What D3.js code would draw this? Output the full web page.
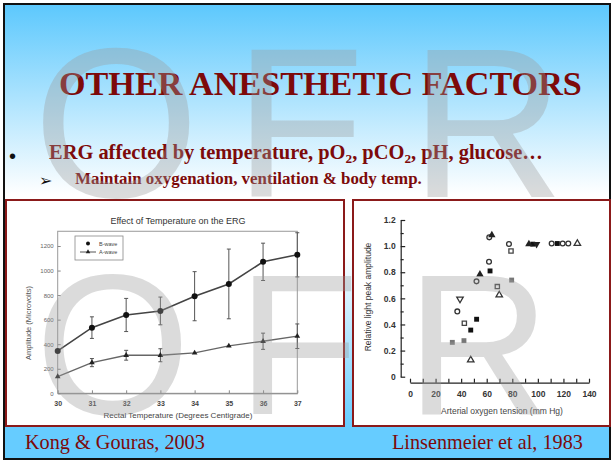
<!DOCTYPE html>
<html>
<head>
<meta charset="utf-8">
<script src="https://cdn.jsdelivr.net/npm/d3@7/dist/d3.min.js"></script>
<style>
  body { margin: 0; background: #fff; }
  svg { display: block; }
</style>
</head>
<body>
<svg width="614" height="464"></svg>
<script>
// ---- left chart: Kong & Gouras, 2003 ----
var temps = [30, 31, 32, 33, 34, 35, 36, 37];
var bWave = [345, 535, 638, 671, 791, 891, 1071, 1128];
var bErr  = [0, 88, 135, 113, 200, 284, 152, 180];
var aWave = [136, 250, 310, 310, 329, 386, 424, 465];
var aErr  = [0, 33, 40, 53, 0, 0, 66, 100];
var ampTicks = [0, 200, 400, 600, 800, 1000, 1200];

// ---- right chart: Linsenmeier et al, 1983 ----
// [arterial pO2 (mm Hg), relative amplitude]
var openCircle   = [[37, 0.50], [52, 0.73], [61.8, 0.88], [62, 1.067], [77.4, 1.016], [110.8, 1.02], [119.4, 1.02], [123.8, 1.02]];
var openSquare   = [[42.5, 0.41], [68.3, 0.69], [79, 0.963]];
var blackSquare  = [[47.5, 0.357], [52.1, 0.44], [62.6, 0.81], [96, 1.015], [115.2, 1.02]];
var greySquare   = [[33.1, 0.263], [42.2, 0.276], [79.5, 0.74]];
var openTri      = [[47.5, 0.128], [69.8, 0.626], [130.9, 1.02]];
var openTriDown  = [[39.1, 0.595]];
var filledTri    = [[54.7, 0.784], [64, 1.085], [93, 1.015]];
var filledTriDown = [[99, 1.015]];
var o2Ticks = [0, 20, 40, 60, 80, 100, 120, 140];
var relTicks = [0, 0.2, 0.4, 0.6, 0.8, 1.0, 1.2];

var red = "#7d0a0a";
var svg = d3.select("svg");

// background slide
var defs = svg.append("defs");
var grad = defs.append("linearGradient").attr("id", "bg")
  .attr("x1", 0).attr("y1", 0).attr("x2", 0).attr("y2", 1);
grad.append("stop").attr("offset", "0").attr("stop-color", "#5cc8fd");
grad.append("stop").attr("offset", "0.42").attr("stop-color", "#ffffff");
grad.append("stop").attr("offset", "0.55").attr("stop-color", "#ffffff");
grad.append("stop").attr("offset", "0.93").attr("stop-color", "#66ccff");
grad.append("stop").attr("offset", "1").attr("stop-color", "#66ccff");

svg.append("rect").attr("x", 4).attr("y", 4).attr("width", 606).attr("height", 455)
  .attr("fill", "url(#bg)").attr("stroke", "#111").attr("stroke-width", 2);

// fit a text to a given width by changing its font size
function fit(t, w) {
  var fs = +t.attr("font-size");
  var cur = t.node().getComputedTextLength();
  t.attr("font-size", fs * w / cur);
}

var title = svg.append("text")
  .attr("x", 59).attr("y", 95)
  .attr("font-family", "Liberation Serif, Times New Roman, serif")
  .attr("font-weight", "bold").attr("font-size", 34).attr("fill", red)
  .text("OTHER ANESTHETIC FACTORS");
fit(title, 523);

svg.append("text").attr("x", 9).attr("y", 163)
  .attr("font-family", "Liberation Sans, Arial, sans-serif").attr("font-size", 20).attr("fill", "#111")
  .text("\u2022");

var line1 = svg.append("text")
  .attr("x", 49).attr("y", 159)
  .attr("font-family", "Liberation Serif, Times New Roman, serif")
  .attr("font-weight", "bold").attr("font-size", 20).attr("fill", red);
line1.append("tspan").text("ERG affected by temperature, pO");
line1.append("tspan").attr("font-size", "0.65em").attr("dy", "0.3em").text("2");
line1.append("tspan").attr("dy", "-0.2em").text(", pCO");
line1.append("tspan").attr("font-size", "0.65em").attr("dy", "0.3em").text("2");
line1.append("tspan").attr("dy", "-0.2em").text(", pH, glucose\u2026");
fit(line1, 494);

svg.append("text").attr("x", 39).attr("y", 186)
  .attr("font-family", "DejaVu Sans, sans-serif").attr("font-size", 16).attr("fill", "#111")
  .text("\u27A2");

var line2 = svg.append("text")
  .attr("x", 75).attr("y", 184)
  .attr("font-family", "Liberation Serif, Times New Roman, serif")
  .attr("font-weight", "bold").attr("font-size", 16).attr("fill", red)
  .text("Maintain oxygenation, ventilation & body temp.");
fit(line2, 347);

// panels
svg.append("rect").attr("x", 6).attr("y", 200).attr("width", 338).attr("height", 226)
  .attr("fill", "#fff").attr("stroke", "#8b1a1a").attr("stroke-width", 2);
svg.append("rect").attr("x", 353).attr("y", 200).attr("width", 257).attr("height", 226)
  .attr("fill", "#fff").attr("stroke", "#8b1a1a").attr("stroke-width", 2);

// captions
var cap1 = svg.append("text").attr("x", 25).attr("y", 449)
  .attr("font-family", "Liberation Serif, Times New Roman, serif")
  .attr("font-size", 19).attr("fill", red).text("Kong & Gouras, 2003");
fit(cap1, 180);
var cap2 = svg.append("text").attr("x", 392).attr("y", 449)
  .attr("font-family", "Liberation Serif, Times New Roman, serif")
  .attr("font-size", 19).attr("fill", red).text("Linsenmeier et al, 1983");
fit(cap2, 191);

// ================= left chart =================
var x1 = d3.scaleLinear().domain([30, 37]).range([57.7, 297.3]);
var y1 = d3.scaleLinear().domain([0, 1200]).range([393.3, 246]);
var g1 = svg.append("g").attr("font-family", "Liberation Sans, Arial, sans-serif");

g1.append("text").attr("x", 178).attr("y", 224).attr("text-anchor", "middle")
  .attr("font-size", 9).attr("fill", "#333").text("Effect of Temperature on the ERG");

g1.append("rect").attr("x", x1(30)).attr("y", y1(1320))
  .attr("width", x1(37) - x1(30)).attr("height", y1(0) - y1(1320))
  .attr("fill", "none").attr("stroke", "#999").attr("stroke-width", 1);

var ax1 = g1.append("g").attr("transform", "translate(" + x1(30) + ",0)")
  .call(d3.axisLeft(y1).tickValues(ampTicks).tickSizeInner(-3).tickSizeOuter(0).tickPadding(4)
    .tickFormat(d3.format("d")));
ax1.select(".domain").remove();
ax1.selectAll("line").attr("stroke", "#888");
ax1.selectAll("text").attr("font-size", 6).attr("fill", "#666");

var bx1 = g1.append("g").attr("transform", "translate(0," + y1(0) + ")")
  .call(d3.axisBottom(x1).tickValues(temps).tickSizeInner(-3).tickSizeOuter(0).tickPadding(8)
    .tickFormat(d3.format("d")));
bx1.select(".domain").attr("stroke", "#888");
bx1.selectAll("line").attr("stroke", "#888");
bx1.selectAll("text").attr("font-size", 7).attr("font-weight", "bold").attr("fill", "#444");

g1.append("text").attr("x", 178).attr("y", 418).attr("text-anchor", "middle")
  .attr("font-size", 8).attr("fill", "#444").text("Rectal Temperature (Degrees Centigrade)");
g1.append("text").attr("transform", "translate(31,323) rotate(-90)").attr("text-anchor", "middle")
  .attr("font-size", 7.5).attr("fill", "#555").text("Amplitude (Microvolts)");

function errorBars(vals, errs) {
  var sel = g1.append("g").attr("stroke", "#555").attr("stroke-width", 1);
  temps.forEach(function(t, i) {
    if (!errs[i]) return;
    var cx = x1(t), lo = y1(vals[i] - errs[i]), hi = y1(vals[i] + errs[i]);
    sel.append("line").attr("x1", cx).attr("x2", cx).attr("y1", lo).attr("y2", hi);
    sel.append("line").attr("x1", cx - 2).attr("x2", cx + 2).attr("y1", lo).attr("y2", lo);
    sel.append("line").attr("x1", cx - 2).attr("x2", cx + 2).attr("y1", hi).attr("y2", hi);
  });
}
errorBars(bWave, bErr);
errorBars(aWave, aErr);

var lineGen = d3.line().x(function(d) { return x1(d[0]); }).y(function(d) { return y1(d[1]); });
var bPts = temps.map(function(t, i) { return [t, bWave[i]]; });
var aPts = temps.map(function(t, i) { return [t, aWave[i]]; });

g1.append("path").attr("d", lineGen(bPts)).attr("fill", "none").attr("stroke", "#444").attr("stroke-width", 1.6);
g1.append("path").attr("d", lineGen(aPts)).attr("fill", "none").attr("stroke", "#666").attr("stroke-width", 1.3);

g1.selectAll(".bdot").data(bPts).enter().append("circle")
  .attr("cx", function(d) { return x1(d[0]); }).attr("cy", function(d) { return y1(d[1]); })
  .attr("r", 3).attr("fill", "#111");
var triSym = d3.symbol().type(d3.symbolTriangle).size(14);
g1.selectAll(".adot").data(aPts).enter().append("path")
  .attr("transform", function(d) { return "translate(" + x1(d[0]) + "," + y1(d[1]) + ")"; })
  .attr("d", triSym).attr("fill", "#222");

// legend
var lg = g1.append("g");
lg.append("rect").attr("x", 75).attr("y", 236).attr("width", 48).attr("height", 24)
  .attr("fill", "#fff").attr("stroke", "#888").attr("stroke-width", 0.8);
lg.append("circle").attr("cx", 88).attr("cy", 243.5).attr("r", 2).attr("fill", "#111");
lg.append("line").attr("x1", 80).attr("x2", 96).attr("y1", 252).attr("y2", 252).attr("stroke", "#555");
lg.append("path").attr("transform", "translate(88,252)").attr("d", d3.symbol().type(d3.symbolTriangle).size(9)).attr("fill", "#222");
lg.append("text").attr("x", 99).attr("y", 245.5).attr("font-size", 5.5).attr("fill", "#444").text("B-wave");
lg.append("text").attr("x", 99).attr("y", 254).attr("font-size", 5.5).attr("fill", "#444").text("A-wave");

// ================= right chart =================
var x2 = d3.scaleLinear().domain([0, 140]).range([410, 589]);
var y2 = d3.scaleLinear().domain([0, 1.2]).range([376.7, 220]);
var g2 = svg.append("g").attr("font-family", "Liberation Sans, Arial, sans-serif");

var ay2 = g2.append("g").attr("transform", "translate(400.7,0)")
  .call(d3.axisLeft(y2).tickValues(relTicks).tickSizeInner(-4.5).tickSizeOuter(0).tickPadding(5)
    .tickFormat(function(d) { return d === 0 ? "0" : d3.format(".1f")(d); }));
g2.append("g").attr("transform", "translate(400.7,0)")
  .call(d3.axisLeft(y2).tickValues(d3.range(0.1, 1.2, 0.2)).tickSizeInner(-3).tickSizeOuter(0).tickFormat(""))
  .select(".domain").remove();

var ax2 = g2.append("g").attr("transform", "translate(0,382.7)")
  .call(d3.axisBottom(x2).tickValues(d3.range(0, 141, 10)).tickSizeInner(-4).tickSizeOuter(0).tickPadding(8)
    .tickFormat(function(d) { return d % 20 === 0 ? d : ""; }));

g2.selectAll(".domain, .tick line").attr("stroke", "#222").attr("stroke-width", 1.2);
g2.selectAll(".tick text").attr("font-size", 8.5).attr("font-weight", "bold").attr("fill", "#333");

g2.append("text").attr("x", 502).attr("y", 414).attr("text-anchor", "middle")
  .attr("font-size", 8.5).attr("fill", "#444").text("Arterial oxygen tension (mm Hg)");
g2.append("text").attr("transform", "translate(371,297) rotate(-90)").attr("text-anchor", "middle")
  .attr("font-size", 8.5).attr("fill", "#333").text("Relative light peak amplitude");

function scatter(data, type, size, fill, stroke, rot) {
  var sym = d3.symbol().type(type).size(size);
  g2.append("g").selectAll("path").data(data).enter().append("path")
    .attr("transform", function(d) {
      return "translate(" + x2(d[0]) + "," + y2(d[1]) + ")" + (rot ? " rotate(" + rot + ")" : "");
    })
    .attr("d", sym).attr("fill", fill).attr("stroke", stroke).attr("stroke-width", 1.3);
}
scatter(openCircle, d3.symbolCircle, 18, "#fff", "#333");
scatter(openSquare, d3.symbolSquare, 18, "#fff", "#444");
scatter(greySquare, d3.symbolSquare, 24, "#777", "none");
scatter(blackSquare, d3.symbolSquare, 24, "#111", "none");
scatter(openTri, d3.symbolTriangle, 18, "#fff", "#333");
scatter(openTriDown, d3.symbolTriangle, 18, "#fff", "#333", 180);
scatter(filledTri, d3.symbolTriangle, 24, "#222", "none");
scatter(filledTriDown, d3.symbolTriangle, 24, "#222", "none", 180);

// ================= watermark =================
var wm = svg.append("g").attr("font-family", "Liberation Sans, Arial, sans-serif")
  .attr("fill", "#9a9a9a").attr("fill-opacity", 0.36);
wm.append("text").attr("x", 33).attr("y", 197).attr("font-size", 214).text("O");
wm.append("text").attr("x", 234).attr("y", 197).attr("font-size", 214).text("F");
wm.append("text").attr("x", 410).attr("y", 197).attr("font-size", 214).text("R");
wm.append("text").attr("x", 35).attr("y", 414).attr("font-size", 200).text("O");
wm.append("text").attr("x", 237).attr("y", 414).attr("font-size", 200).text("F");
wm.append("text").attr("x", 406).attr("y", 414).attr("font-size", 200).text("R");
</script>
</body>
</html>
